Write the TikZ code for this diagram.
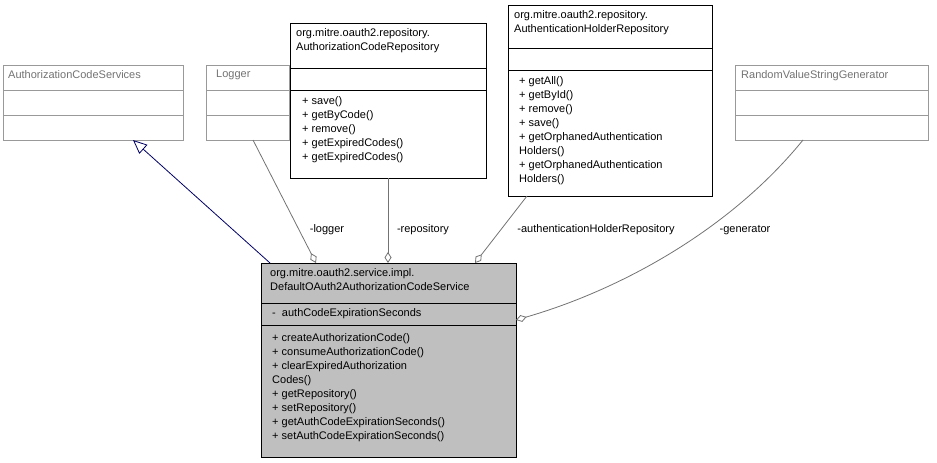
\documentclass[tikz,border=0pt]{standalone}
\usepackage{fontspec}
\setmainfont{Liberation Sans}
\usetikzlibrary{arrows.meta}
\begin{document}
\begin{tikzpicture}[x=1pt,y=-1pt,
  txt/.style={anchor=north west,inner sep=0pt,align=left,font=\fontsize{11}{14}\selectfont},
  gbox/.style={draw=black!40,fill=white,line width=0.8pt},
  bbox/.style={draw=black,fill=white,line width=0.8pt},
  mbox/.style={draw=black,fill=black!25,line width=0.8pt},
  assoc/.style={draw=black!55,line width=0.8pt,-{Diamond[open,fill=white,length=11pt,width=7pt]}},
  lbl/.style={font=\fontsize{11}{14}\selectfont,inner sep=1pt,fill=white}]
\useasboundingbox (0,0) rectangle (937,463);
% AuthorizationCodeServices
\draw[gbox] (3,65) rectangle (183,140);
\draw[black!40] (3,90)--(183,90) (3,115)--(183,115);
\node[txt,text=black!55] (acs) at (8,70) {AuthorizationCodeServices};
% Logger
\draw[gbox] (206,65) rectangle (289,140);
\draw[black!40] (206,90)--(289,90) (206,115)--(289,115);
\node[txt,text=black!55] (log) at (216,70) {Logger};
% AuthorizationCodeRepository
\draw[bbox] (290,23) rectangle (486,178);
\draw (290,68)--(486,68) (290,90)--(486,90);
\node[txt] (acr) at (296,28) {org.mitre.oauth2.repository.\\AuthorizationCodeRepository};
\node[txt] (acrm) at (302,96) {+ save()\\+ getByCode()\\+ remove()\\+ getExpiredCodes()\\+ getExpiredCodes()};
% AuthenticationHolderRepository
\draw[bbox] (508,5) rectangle (712,196);
\draw (508,48)--(712,48) (508,70)--(712,70);
\node[txt] (ahr) at (514,10) {org.mitre.oauth2.repository.\\AuthenticationHolderRepository};
\node[txt] (ahrm) at (519,76) {+ getAll()\\+ getById()\\+ remove()\\+ save()\\+ getOrphanedAuthentication\\Holders()\\+ getOrphanedAuthentication\\Holders()};
% RandomValueStringGenerator
\draw[gbox] (735,65) rectangle (928,140);
\draw[black!40] (735,90)--(928,90) (735,115)--(928,115);
\node[txt,text=black!55] (rvs) at (741,70) {RandomValueStringGenerator};
% Main
\draw[mbox] (261,263) rectangle (516,457);
\draw (261,303)--(516,303) (261,325)--(516,325);
\node[txt] (main) at (270,268) {org.mitre.oauth2.service.impl.\\DefaultOAuth2AuthorizationCodeService};
\node[txt] (attr) at (272,308) {-\ \ authCodeExpirationSeconds};
\node[txt] (meth) at (272,333) {+ createAuthorizationCode()\\+ consumeAuthorizationCode()\\+ clearExpiredAuthorization\\Codes()\\+ getRepository()\\+ setRepository()\\+ getAuthCodeExpirationSeconds()\\+ setAuthCodeExpirationSeconds()};
% connectors
\coordinate (m1) at (270,263); \coordinate (a1) at (133,140);
\draw[draw=blue!40!black,line width=0.8pt,-{Triangle[open,fill=white,length=14pt,width=12pt]}] (m1)--(a1);
\coordinate (l1) at (253,140); \coordinate (l2) at (316,263);
\draw[assoc] (l1)--(l2);
\node[lbl] at (327,230) {-logger};
\coordinate (r1) at (388,178); \coordinate (r2) at (388,263);
\draw[assoc] (r1)--(r2);
\node[lbl] at (423,230) {-repository};
\coordinate (h1) at (527,196); \coordinate (h2) at (475,263);
\draw[assoc] (h1)--(h2);
\node[lbl] at (596,230) {-authenticationHolderRepository};
\coordinate (g1) at (803,140); \coordinate (g2) at (516,320);
\draw[assoc] (g1) .. controls (730,230) and (620,290) .. (g2);
\node[lbl,fill=none] at (745,230) {-generator};
\end{tikzpicture}
\end{document}
